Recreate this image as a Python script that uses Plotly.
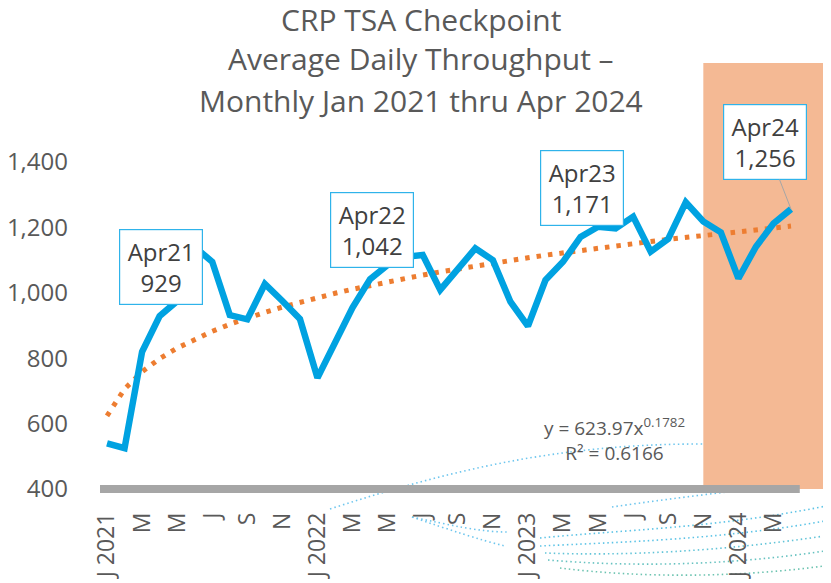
import plotly.graph_objects as go

# ---------------- data ----------------
month_abbr = ["Jan", "Feb", "Mar", "Apr", "May", "Jun",
              "Jul", "Aug", "Sep", "Oct", "Nov", "Dec"]
years = [2021, 2022, 2023, 2024]

throughput_2021 = [540, 525, 820, 929, 975, 1140, 1095, 932, 919, 1027, 975, 920]
throughput_2022 = [740, 850, 955, 1042, 1085, 1110, 1116, 1009, 1070, 1136, 1100, 973]
throughput_2023 = [898, 1039, 1095, 1171, 1202, 1197, 1233, 1126, 1165, 1277, 1218, 1185]
throughput_2024 = [1044, 1141, 1212, 1256]

tick_labels = ["J 2021", "M", "M", "J", "S", "N",
               "J 2022", "M", "M", "J", "S", "N",
               "J 2023", "M", "M", "J", "S", "N",
               "J 2024", "M"]
y_tick_values = [400, 600, 800, 1000, 1200, 1400]

callout_names = ["Apr21", "Apr22", "Apr23", "Apr24"]

trend_coef = 623.97
trend_exp = 0.1782
trend_r2 = 0.6166

highlight_start_label = "Nov 2023"

# ---------------- derived ----------------
throughput = throughput_2021 + throughput_2022 + throughput_2023 + throughput_2024
month_labels = [f"{m} {y}" for y in years for m in month_abbr][:len(throughput)]
x_idx = list(range(len(throughput)))
trend = [trend_coef * (i + 1) ** trend_exp for i in x_idx]
tick_vals = x_idx[::2]
callout_idx = [month_labels.index(n[:3] + " 20" + n[3:]) for n in callout_names]
highlight_idx = month_labels.index(highlight_start_label)

# ---------------- layout geometry ----------------
# the page body adds an 8px offset; compensate so the picture lines up
OFF = 8
W, H = 831 - OFF, 583 - OFF
PL, PR, PT, PB = 100, 831, 63, 494          # plot area in window pixels
ML, MR, MT = PL - OFF, 0, PT - OFF
MB = H - (PB - OFF)
PW, PH = PR - PL, PB - PT
X_RANGE = [-0.4, 41.28]
Y_RANGE = [385, 1702.75]


def px(xp):
    return (xp - PL) / PW


def py(yp):
    return (PB - yp) / PH


TXT = "#595959"
FONT = "Open Sans"

fig = go.Figure()

# trend line (dotted orange)
fig.add_trace(go.Scatter(
    x=x_idx, y=trend, mode="lines",
    line=dict(color="#ED7D31", width=5, dash="4.5px,7px"),
    hoverinfo="skip", showlegend=False))

# main series
fig.add_trace(go.Scatter(
    x=x_idx, y=throughput, mode="lines",
    line=dict(color="#00A2E1", width=6.5),
    text=month_labels, hovertemplate="%{text}: %{y:,}<extra></extra>",
    showlegend=False))

shapes = []
# highlighted period
shapes.append(dict(type="rect", xref="x", yref="y",
                   x0=highlight_idx, x1=X_RANGE[1], y0=400, y1=Y_RANGE[1],
                   fillcolor="#F4B994", line=dict(width=0), layer="below"))
# axis bar
shapes.append(dict(type="line", xref="x", yref="y",
                   x0=X_RANGE[0], x1=len(throughput) - 0.5, y0=400, y1=400,
                   line=dict(color="#A6A6A6", width=8), layer="above"))


# decorative dotted swooshes (background graphic)
def path(points):
    s = "M {},{}".format(px(points[0][0]), py(points[0][1]))
    rest = points[1:]
    for k in range(0, len(rest), 3):
        (a, b), (c, d), (e, f) = rest[k:k + 3]
        s += " C {},{} {},{} {},{}".format(px(a), py(b), px(c), py(d), px(e), py(f))
    return s


swooshes = [
    ([(330, 509), (450, 470), (560, 444), (700, 444), (780, 445), (815, 450), (831, 453)], "#6EC6EE"),
    ([(720, 487), (760, 480), (800, 474), (831, 470)], "#7fb6d8"),
    ([(612, 507), (680, 497), (760, 488), (831, 480)], "#6EC6EE"),
    ([(412, 517), (450, 525), (480, 532), (507, 532)], "#6EC6EE"),
    ([(412, 517), (450, 530), (480, 540), (505, 546)], "#6EC6EE"),
    ([(540, 538), (620, 530), (720, 528), (831, 505)], "#5BC3E6"),
    ([(540, 546), (620, 542), (720, 540), (831, 520)], "#5BC3E6"),
    ([(545, 553), (620, 556), (720, 552), (831, 535)], "#62C4D8"),
    ([(548, 560), (630, 567), (730, 566), (831, 550)], "#66C2C0"),
    ([(560, 568), (640, 578), (740, 578), (831, 565)], "#6CC3B0"),
]
for pts, col in swooshes:
    shapes.append(dict(type="path", xref="paper", yref="paper", path=path(pts),
                       line=dict(color=col, width=1.6, dash="1.5px,3px"),
                       layer="below"))

annotations = []
# title lines
for text, yc in [("CRP TSA Checkpoint", 19),
                 ("Average Daily Throughput \u2013", 59),
                 ("Monthly Jan 2021 thru Apr 2024", 100)]:
    annotations.append(dict(text=text, xref="paper", yref="paper",
                            x=px(421), y=py(yc), xanchor="center", yanchor="middle",
                            showarrow=False, font=dict(family=FONT, size=30, color=TXT)))

# callouts
for name, i in zip(callout_names, callout_idx):
    label = f"{name}<br>{throughput[i]:,}"
    common = dict(text=label, x=i, y=throughput[i], xref="x", yref="y",
                  font=dict(family=FONT, size=24, color="#404040"),
                  bgcolor="white", bordercolor="#2FB3EA", borderwidth=1.2,
                  borderpad=5, width=72, height=64, align="center")
    if i == callout_idx[-1]:
        annotations.append(dict(**common, showarrow=True, arrowhead=0,
                                arrowwidth=1, arrowcolor="#A6A6A6",
                                ax=-26, ay=-67, standoff=0))
    else:
        annotations.append(dict(**common, showarrow=False,
                                xanchor="center", yanchor="middle",
                                xshift=1.5, yshift=49))

# trend equation
annotations.append(dict(
    text=f"y = {trend_coef}x<sup>{trend_exp}</sup><br>R\u00b2 = {trend_r2}",
    xref="paper", yref="paper", x=px(614), y=py(439),
    xanchor="center", yanchor="middle", showarrow=False,
    font=dict(family=FONT, size=19, color=TXT)))

fig.update_layout(
    width=W, height=H,
    margin=dict(l=ML, r=MR, t=MT, b=MB, pad=0),
    paper_bgcolor="white", plot_bgcolor="rgba(0,0,0,0)",
    shapes=shapes, annotations=annotations,
    hovermode="closest",
    xaxis=dict(range=X_RANGE, tickmode="array", tickvals=tick_vals,
               ticktext=tick_labels, tickangle=-90, showgrid=False,
               zeroline=False, showline=False, ticks="",
               ticklabelstandoff=13,
               tickfont=dict(family=FONT, size=23, color=TXT)),
    yaxis=dict(range=Y_RANGE, tickmode="array", tickvals=y_tick_values,
               tickformat=",d", showgrid=False, zeroline=False,
               showline=False, ticks="", ticklabelstandoff=31,
               tickfont=dict(family=FONT, size=24, color=TXT)),
)

fig.write_html("out.html")
